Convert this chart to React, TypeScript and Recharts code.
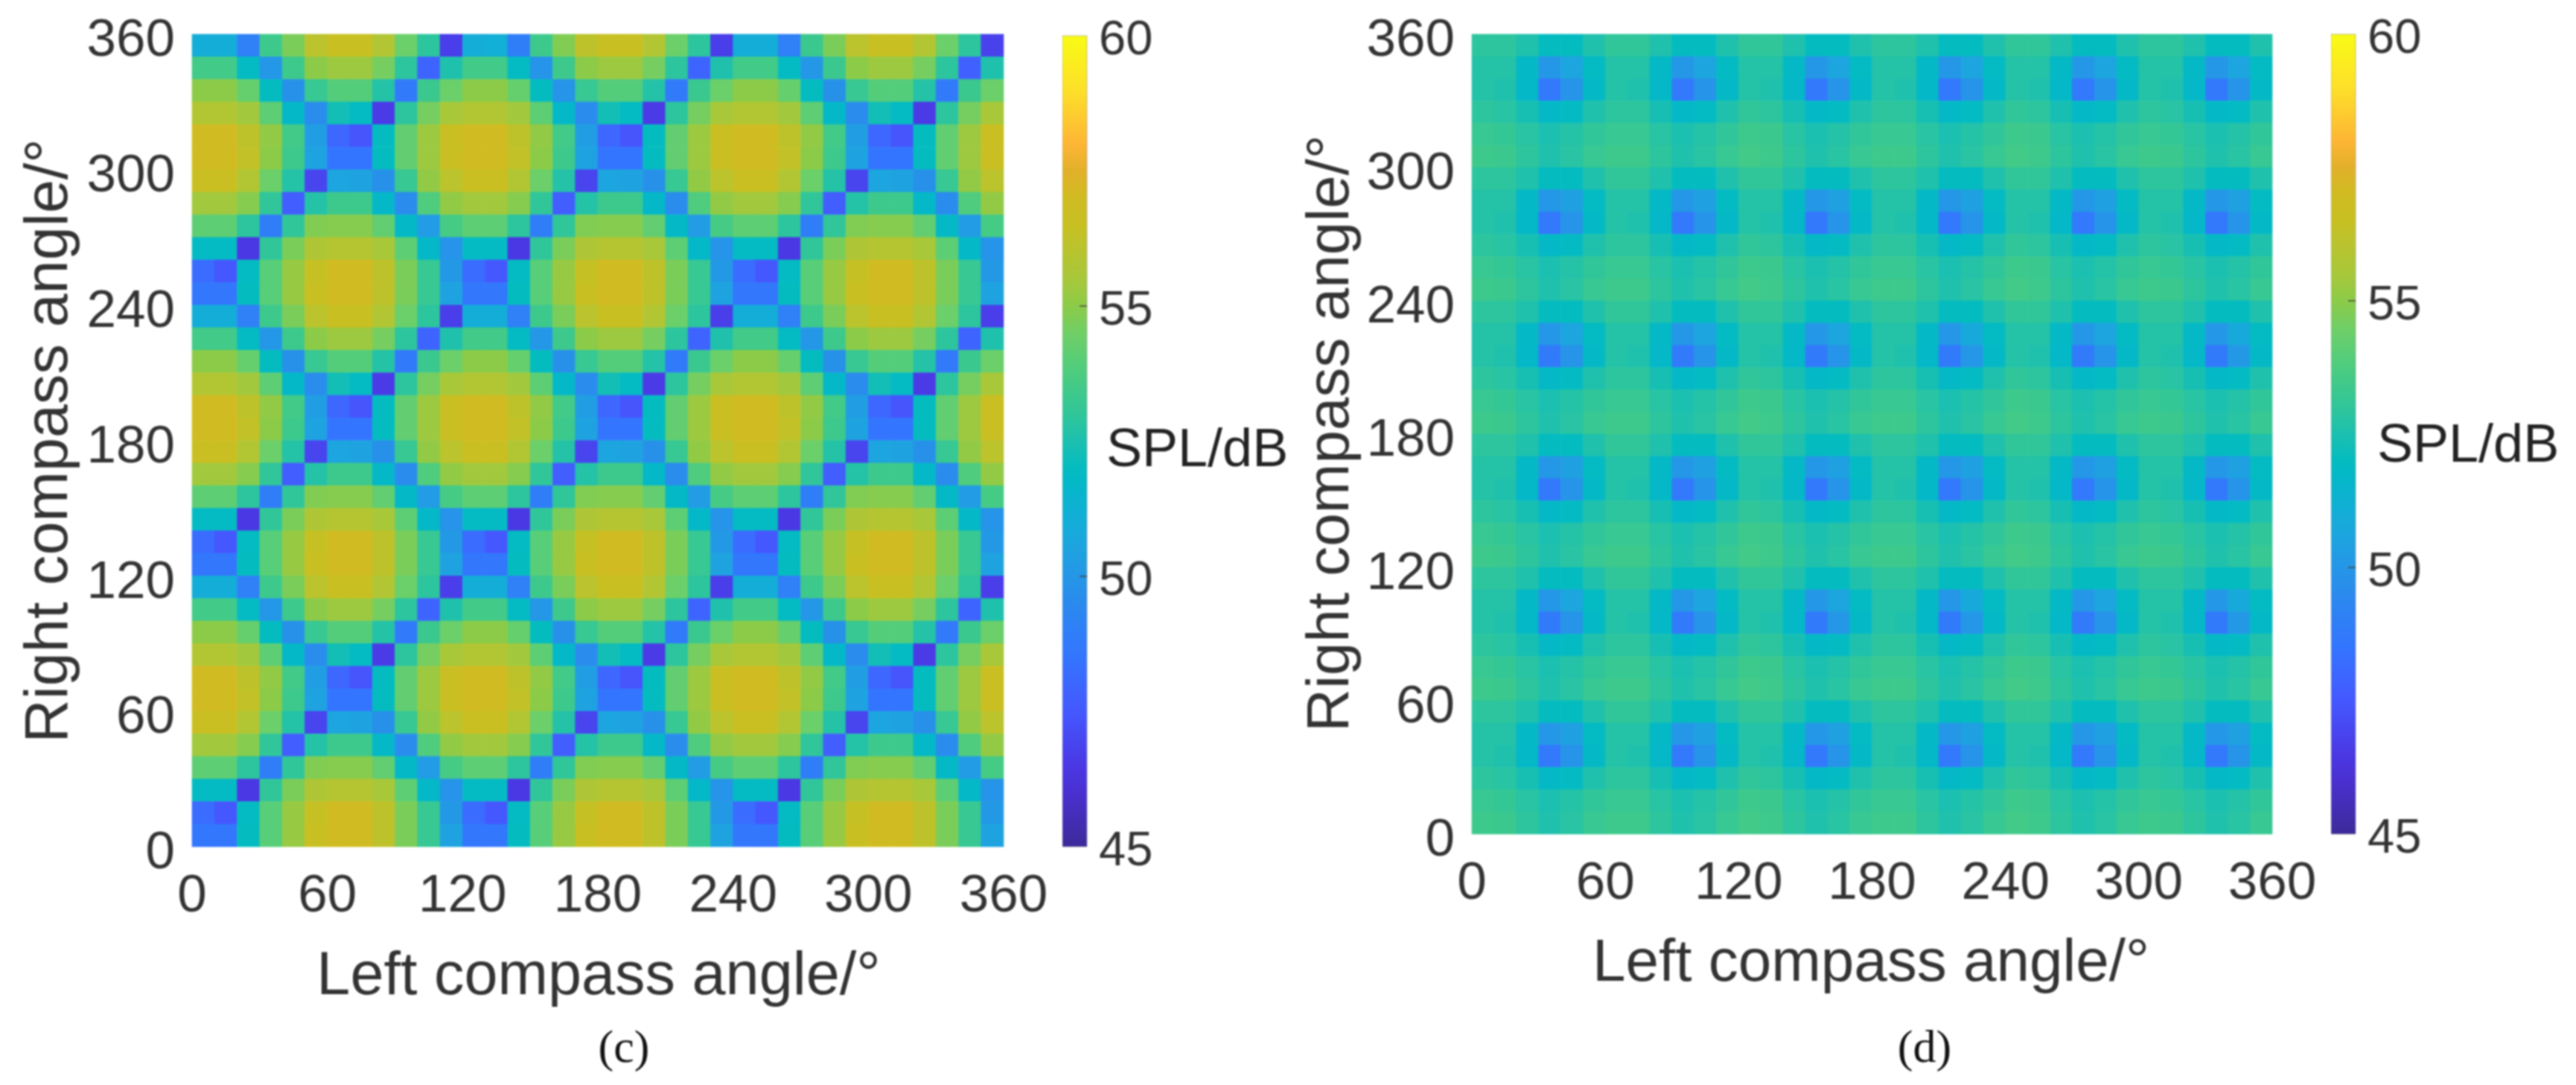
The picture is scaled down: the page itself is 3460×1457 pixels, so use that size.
import { Bar, BarChart, Label, Scatter, ScatterChart, XAxis, YAxis } from "recharts";

const angleTicks = [0, 60, 120, 180, 240, 300, 360];
const splTicks = [45, 50, 55, 60];
const cellDeg = 10;

// SPL in dB, top row (350-360 deg) first, left to right
const splPanelC = [
  [51.0,51.0,49.0,53.4,54.7,56.1,56.5,56.5,55.8,54.4,52.9,46.7,51.0,51.1,48.9,53.4,54.8,56.2,56.5,56.5,55.8,54.4,52.9,46.7,51.0,51.0,49.0,53.3,54.7,56.1,56.5,56.5,55.8,54.4,52.9,46.8],
  [53.5,53.5,51.9,50.0,53.4,55.0,55.3,55.3,54.6,52.9,47.9,52.6,53.5,53.5,51.9,49.9,53.4,55.0,55.3,55.3,54.6,52.9,47.9,52.6,53.5,53.5,51.9,50.0,53.3,55.0,55.3,55.3,54.6,52.9,47.8,52.6],
  [55.0,55.0,54.3,52.0,49.8,53.2,53.9,53.9,52.7,48.8,53.3,54.4,55.0,55.0,54.3,52.0,49.9,53.2,53.9,53.9,52.7,48.8,53.3,54.4,55.0,55.0,54.3,52.0,49.8,53.2,53.9,53.9,52.7,48.8,53.3,54.4],
  [55.8,55.8,55.4,54.1,51.7,49.6,52.3,51.9,46.6,52.9,54.6,55.5,55.8,55.8,55.4,54.1,51.7,49.6,52.3,51.9,46.6,52.9,54.6,55.5,55.8,55.8,55.4,54.1,51.7,49.6,52.3,51.9,46.6,52.9,54.6,55.5],
  [57.0,57.0,56.2,55.1,53.5,50.3,48.0,47.4,52.0,54.2,55.3,56.6,57.0,57.0,56.2,55.1,53.5,50.3,48.0,47.4,52.0,54.2,55.3,56.6,57.0,57.0,56.2,55.1,53.5,50.3,48.0,47.4,52.0,54.2,55.3,56.6],
  [57.0,57.0,56.3,55.0,53.4,50.5,48.5,48.5,52.0,54.2,55.3,56.6,57.0,57.0,56.3,55.0,53.4,50.5,48.5,48.5,52.0,54.2,55.3,56.6,57.0,57.0,56.3,55.0,53.4,50.5,48.5,48.5,52.0,54.2,55.3,56.6],
  [56.6,56.6,55.8,54.4,52.7,46.9,50.6,50.5,49.8,53.2,55.1,56.1,56.6,56.6,55.8,54.4,52.7,46.9,50.6,50.5,49.8,53.2,55.1,56.1,56.6,56.6,55.8,54.4,52.7,46.9,50.6,50.5,49.8,53.2,55.1,56.1],
  [55.4,55.4,54.9,53.0,47.7,52.7,53.4,53.4,51.7,49.6,53.8,55.1,55.4,55.4,54.9,53.0,47.7,52.7,53.4,53.4,51.7,49.6,53.8,55.1,55.4,55.4,54.9,53.0,47.7,52.7,53.4,53.4,51.7,49.6,53.8,55.1],
  [54.1,54.1,52.9,48.9,53.0,54.8,54.9,54.9,54.2,51.8,50.2,53.6,54.1,54.1,52.9,48.9,53.0,54.8,54.9,54.9,54.2,51.8,50.2,53.6,54.1,54.1,52.9,48.9,53.0,54.8,54.9,54.9,54.2,51.8,50.2,53.6],
  [51.9,51.9,46.5,53.0,54.7,55.7,55.9,55.9,55.5,54.1,51.7,49.9,51.9,51.9,46.5,53.0,54.7,55.7,55.9,55.9,55.5,54.1,51.7,49.9,51.9,51.9,46.5,53.0,54.7,55.7,55.9,55.9,55.5,54.1,51.7,49.9],
  [48.2,47.5,51.9,54.0,55.2,56.4,57.0,57.0,56.2,54.7,53.2,50.1,48.2,47.5,51.9,54.0,55.2,56.4,57.0,57.0,56.2,54.7,53.2,50.1,48.2,47.5,51.9,54.0,55.2,56.4,57.0,57.0,56.2,54.7,53.2,50.1],
  [48.6,48.6,52.0,54.0,55.2,56.5,57.0,57.0,56.2,54.7,53.2,50.5,48.6,48.6,52.0,54.0,55.2,56.5,57.0,57.0,56.2,54.7,53.2,50.5,48.6,48.6,52.0,54.0,55.2,56.5,57.0,57.0,56.2,54.7,53.2,50.5],
  [51.0,51.0,49.0,53.4,54.7,56.1,56.5,56.5,55.8,54.4,52.9,46.7,51.0,51.0,49.0,53.4,54.7,56.1,56.5,56.5,55.8,54.4,52.9,46.7,51.0,51.0,49.0,53.4,54.7,56.1,56.5,56.5,55.8,54.4,52.9,46.7],
  [53.5,53.5,51.9,50.0,53.4,55.0,55.3,55.3,54.6,52.9,47.9,52.6,53.5,53.5,51.9,50.0,53.4,55.0,55.3,55.3,54.6,52.9,47.9,52.6,53.5,53.5,51.9,50.0,53.4,55.0,55.3,55.3,54.6,52.9,47.9,52.6],
  [55.0,55.0,54.3,52.0,49.8,53.2,53.9,53.9,52.7,48.8,53.3,54.4,55.0,55.0,54.3,52.0,49.8,53.2,53.9,53.9,52.7,48.8,53.3,54.4,55.0,55.0,54.3,52.0,49.8,53.2,53.9,53.9,52.7,48.8,53.3,54.4],
  [55.8,55.8,55.4,54.1,51.7,49.6,52.3,51.9,46.6,52.9,54.6,55.5,55.8,55.8,55.4,54.1,51.7,49.6,52.3,51.9,46.6,52.9,54.6,55.5,55.8,55.8,55.4,54.1,51.7,49.6,52.3,51.9,46.6,52.9,54.6,55.5],
  [57.0,57.0,56.2,55.1,53.5,50.3,48.0,47.4,52.0,54.2,55.3,56.6,57.0,57.0,56.2,55.1,53.5,50.3,48.0,47.4,52.0,54.2,55.3,56.6,57.0,57.0,56.2,55.1,53.5,50.3,48.0,47.4,52.0,54.2,55.3,56.6],
  [57.0,57.0,56.3,55.0,53.4,50.5,48.5,48.5,52.0,54.2,55.3,56.6,57.0,57.0,56.3,55.0,53.4,50.5,48.5,48.5,52.0,54.2,55.3,56.6,57.0,57.0,56.3,55.0,53.4,50.5,48.5,48.5,52.0,54.2,55.3,56.6],
  [56.6,56.6,55.8,54.4,52.7,46.9,50.6,50.5,49.8,53.2,55.1,56.1,56.6,56.6,55.8,54.4,52.7,46.9,50.6,50.5,49.8,53.2,55.1,56.1,56.6,56.6,55.8,54.4,52.7,46.9,50.6,50.5,49.8,53.2,55.1,56.1],
  [55.4,55.4,54.9,53.0,47.7,52.7,53.4,53.4,51.7,49.6,53.8,55.1,55.4,55.4,54.9,53.0,47.7,52.7,53.4,53.4,51.7,49.6,53.8,55.1,55.4,55.4,54.9,53.0,47.7,52.7,53.4,53.4,51.7,49.6,53.8,55.1],
  [54.1,54.1,52.9,48.9,53.0,54.8,54.9,54.9,54.2,51.8,50.2,53.6,54.1,54.1,52.9,48.9,53.0,54.8,54.9,54.9,54.2,51.8,50.2,53.6,54.1,54.1,52.9,48.9,53.0,54.8,54.9,54.9,54.2,51.8,50.2,53.6],
  [51.9,51.9,46.5,53.0,54.7,55.7,55.9,55.9,55.5,54.1,51.7,49.9,51.9,51.9,46.5,53.0,54.7,55.7,55.9,55.9,55.5,54.1,51.7,49.9,51.9,51.9,46.5,53.0,54.7,55.7,55.9,55.9,55.5,54.1,51.7,49.9],
  [48.2,47.5,51.9,54.0,55.2,56.4,57.0,57.0,56.2,54.7,53.2,50.1,48.2,47.5,51.9,54.0,55.2,56.4,57.0,57.0,56.2,54.7,53.2,50.1,48.2,47.5,51.9,54.0,55.2,56.4,57.0,57.0,56.2,54.7,53.2,50.1],
  [48.6,48.6,52.0,54.0,55.2,56.5,57.0,57.0,56.2,54.7,53.2,50.5,48.6,48.6,52.0,54.0,55.2,56.5,57.0,57.0,56.2,54.7,53.2,50.5,48.6,48.6,52.0,54.0,55.2,56.5,57.0,57.0,56.2,54.7,53.2,50.5],
  [51.0,51.0,49.0,53.4,54.7,56.1,56.5,56.5,55.8,54.4,52.9,46.7,51.0,51.0,49.0,53.4,54.7,56.1,56.5,56.5,55.8,54.4,52.9,46.7,51.0,51.0,49.0,53.4,54.7,56.1,56.5,56.5,55.8,54.4,52.9,46.7],
  [53.5,53.5,51.9,50.0,53.4,55.0,55.3,55.3,54.6,52.9,47.9,52.6,53.5,53.5,51.9,50.0,53.4,55.0,55.3,55.3,54.6,52.9,47.9,52.6,53.5,53.5,51.9,50.0,53.4,55.0,55.3,55.3,54.6,52.9,47.9,52.6],
  [55.0,55.0,54.3,52.0,49.8,53.2,53.9,53.9,52.7,48.8,53.3,54.4,55.0,55.0,54.3,52.0,49.8,53.2,53.9,53.9,52.7,48.8,53.3,54.4,55.0,55.0,54.3,52.0,49.8,53.2,53.9,53.9,52.7,48.8,53.3,54.4],
  [55.8,55.8,55.4,54.1,51.7,49.6,52.3,51.9,46.6,52.9,54.6,55.5,55.8,55.8,55.4,54.1,51.7,49.6,52.3,51.9,46.6,52.9,54.6,55.5,55.8,55.8,55.4,54.1,51.7,49.6,52.3,51.9,46.6,52.9,54.6,55.5],
  [57.0,57.0,56.2,55.1,53.5,50.3,48.0,47.4,52.0,54.2,55.3,56.6,57.0,57.0,56.2,55.1,53.5,50.3,48.0,47.4,52.0,54.2,55.3,56.6,57.0,57.0,56.2,55.1,53.5,50.3,48.0,47.4,52.0,54.2,55.3,56.6],
  [57.0,57.0,56.3,55.0,53.4,50.5,48.5,48.5,52.0,54.2,55.3,56.6,57.0,57.0,56.3,55.0,53.4,50.5,48.5,48.5,52.0,54.2,55.3,56.6,57.0,57.0,56.3,55.0,53.4,50.5,48.5,48.5,52.0,54.2,55.3,56.6],
  [56.6,56.6,55.8,54.4,52.7,46.9,50.6,50.5,49.8,53.2,55.1,56.1,56.6,56.6,55.8,54.4,52.7,46.9,50.6,50.5,49.8,53.2,55.1,56.1,56.6,56.6,55.8,54.4,52.7,46.9,50.6,50.5,49.8,53.2,55.1,56.1],
  [55.4,55.4,54.9,53.0,47.7,52.7,53.4,53.4,51.7,49.6,53.8,55.1,55.4,55.4,54.9,53.0,47.7,52.7,53.4,53.4,51.7,49.6,53.8,55.1,55.4,55.4,54.9,53.0,47.7,52.7,53.4,53.4,51.7,49.6,53.8,55.1],
  [54.1,54.1,52.9,48.9,53.0,54.8,54.9,54.9,54.2,51.8,50.2,53.6,54.1,54.1,52.9,48.9,53.0,54.8,54.9,54.9,54.2,51.8,50.2,53.6,54.1,54.1,52.9,48.9,53.0,54.8,54.9,54.9,54.2,51.8,50.2,53.6],
  [51.9,51.9,46.5,53.0,54.7,55.7,55.9,55.9,55.5,54.1,51.7,49.9,51.9,51.9,46.5,53.0,54.7,55.7,55.9,55.9,55.5,54.1,51.7,49.9,51.9,51.9,46.5,53.0,54.7,55.7,55.9,55.9,55.5,54.1,51.7,49.9],
  [48.2,47.5,51.9,54.0,55.2,56.4,57.0,57.0,56.2,54.7,53.2,50.1,48.2,47.5,51.9,54.0,55.2,56.4,57.0,57.0,56.2,54.7,53.2,50.1,48.2,47.5,51.9,54.0,55.2,56.4,57.0,57.0,56.2,54.7,53.2,50.1],
  [48.6,48.6,52.0,54.0,55.2,56.5,57.0,57.0,56.2,54.7,53.2,50.5,48.6,48.6,52.0,54.0,55.2,56.5,57.0,57.0,56.2,54.7,53.2,50.5,48.6,48.6,52.0,54.0,55.2,56.5,57.0,57.0,56.2,54.7,53.2,50.5],
];

// SPL in dB, same order
const splPanelD = [
  [52.9,52.9,52.6,52.0,52.0,52.6,53.0,53.0,52.6,52.0,52.0,52.6,53.0,53.0,52.6,52.0,52.0,52.6,52.9,52.9,52.6,52.0,52.0,52.6,53.0,53.0,52.6,52.0,52.0,52.6,52.9,52.9,52.6,52.0,52.0,52.6],
  [52.7,52.7,51.8,50.0,50.6,51.9,52.7,52.7,51.8,50.0,50.6,51.9,52.7,52.7,51.8,50.0,50.6,51.9,52.7,52.7,51.8,50.0,50.6,51.9,52.7,52.7,51.8,50.0,50.6,51.9,52.7,52.7,51.8,50.0,50.6,51.9],
  [52.7,52.6,51.7,48.7,49.9,51.8,52.7,52.6,51.7,48.7,49.9,51.8,52.7,52.6,51.7,48.7,49.9,51.8,52.7,52.6,51.7,48.7,49.9,51.8,52.7,52.6,51.7,48.7,49.9,51.8,52.7,52.6,51.7,48.7,49.9,51.8],
  [52.9,52.8,52.4,51.8,51.9,52.6,52.9,52.9,52.4,51.8,51.9,52.6,53.0,52.9,52.4,51.8,51.9,52.6,52.9,52.9,52.4,51.8,51.9,52.6,53.0,52.9,52.4,51.8,51.9,52.6,52.9,52.8,52.4,51.8,51.9,52.6],
  [53.2,53.1,52.8,52.5,52.7,53.0,53.2,53.2,52.8,52.5,52.7,53.0,53.4,53.3,52.8,52.5,52.7,53.0,53.2,53.2,52.8,52.5,52.7,53.0,53.4,53.3,52.8,52.5,52.7,53.0,53.2,53.1,52.8,52.5,52.7,53.0],
  [53.4,53.3,52.9,52.6,52.8,53.2,53.4,53.4,52.9,52.6,52.8,53.2,53.5,53.4,52.9,52.6,52.8,53.2,53.4,53.4,52.9,52.6,52.8,53.2,53.5,53.4,52.9,52.6,52.8,53.2,53.4,53.3,52.9,52.6,52.8,53.2],
  [52.9,52.9,52.6,52.0,52.0,52.6,53.0,53.0,52.6,52.0,52.0,52.6,53.0,53.0,52.6,52.0,52.0,52.6,52.9,52.9,52.6,52.0,52.0,52.6,53.0,53.0,52.6,52.0,52.0,52.6,52.9,52.9,52.6,52.0,52.0,52.6],
  [52.7,52.7,51.8,50.0,50.4,51.9,52.7,52.7,51.8,50.0,50.4,51.9,52.7,52.7,51.8,50.0,50.4,51.9,52.7,52.7,51.8,50.0,50.4,51.9,52.7,52.7,51.8,50.0,50.4,51.9,52.7,52.7,51.8,50.0,50.4,51.9],
  [52.7,52.6,51.7,48.7,49.9,51.8,52.7,52.6,51.7,48.7,49.9,51.8,52.7,52.6,51.7,48.7,49.9,51.8,52.7,52.6,51.7,48.7,49.9,51.8,52.7,52.6,51.7,48.7,49.9,51.8,52.7,52.6,51.7,48.7,49.9,51.8],
  [52.9,52.8,52.4,51.8,51.9,52.6,52.9,52.9,52.4,51.8,51.9,52.6,53.0,52.9,52.4,51.8,51.9,52.6,52.9,52.9,52.4,51.8,51.9,52.6,53.0,52.9,52.4,51.8,51.9,52.6,52.9,52.8,52.4,51.8,51.9,52.6],
  [53.2,53.1,52.8,52.5,52.7,53.0,53.2,53.2,52.8,52.5,52.7,53.0,53.4,53.3,52.8,52.5,52.7,53.0,53.2,53.2,52.8,52.5,52.7,53.0,53.4,53.3,52.8,52.5,52.7,53.0,53.2,53.1,52.8,52.5,52.7,53.0],
  [53.4,53.3,52.9,52.6,52.8,53.2,53.4,53.4,52.9,52.6,52.8,53.2,53.5,53.4,52.9,52.6,52.8,53.2,53.4,53.4,52.9,52.6,52.8,53.2,53.5,53.4,52.9,52.6,52.8,53.2,53.4,53.3,52.9,52.6,52.8,53.2],
  [52.9,52.9,52.6,52.0,52.0,52.6,53.0,53.0,52.6,52.0,52.0,52.6,53.0,53.0,52.6,52.0,52.0,52.6,52.9,52.9,52.6,52.0,52.0,52.6,53.0,53.0,52.6,52.0,52.0,52.6,52.9,52.9,52.6,52.0,52.0,52.6],
  [52.7,52.7,51.8,50.0,50.6,51.9,52.7,52.7,51.8,50.0,50.6,51.9,52.7,52.7,51.8,50.0,50.6,51.9,52.7,52.7,51.8,50.0,50.8,51.9,52.7,52.7,51.8,50.0,50.6,51.9,52.7,52.7,51.8,50.0,50.8,51.9],
  [52.7,52.6,51.7,48.8,49.9,51.8,52.7,52.6,51.7,48.8,49.9,51.8,52.7,52.6,51.7,48.8,49.9,51.8,52.7,52.6,51.7,48.8,50.0,51.8,52.7,52.6,51.7,48.8,49.9,51.8,52.7,52.6,51.7,48.8,50.1,51.8],
  [52.9,52.8,52.4,51.8,51.9,52.6,52.9,52.9,52.4,51.8,51.9,52.6,53.0,52.9,52.4,51.8,51.9,52.6,52.9,52.9,52.4,51.8,51.9,52.6,53.0,52.9,52.4,51.8,51.9,52.6,52.9,52.8,52.4,51.8,51.9,52.6],
  [53.2,53.1,52.8,52.5,52.7,53.0,53.2,53.2,52.8,52.5,52.7,53.0,53.4,53.3,52.8,52.5,52.7,53.0,53.2,53.2,52.8,52.5,52.7,53.0,53.4,53.3,52.8,52.5,52.7,53.0,53.2,53.1,52.8,52.5,52.7,53.0],
  [53.4,53.3,52.9,52.6,52.8,53.2,53.4,53.4,52.9,52.6,52.8,53.2,53.5,53.4,52.9,52.6,52.8,53.2,53.4,53.4,52.9,52.6,52.8,53.2,53.5,53.4,52.9,52.6,52.8,53.2,53.4,53.3,52.9,52.6,52.8,53.2],
  [52.9,52.9,52.6,52.0,52.0,52.6,53.0,53.0,52.6,52.0,52.0,52.6,53.0,53.0,52.6,52.0,52.0,52.6,52.9,52.9,52.6,52.0,52.0,52.6,53.0,53.0,52.6,52.0,52.0,52.6,52.9,52.9,52.6,52.0,52.0,52.6],
  [52.7,52.7,51.8,50.0,50.4,51.9,52.7,52.7,51.8,50.0,50.4,51.9,52.7,52.7,51.8,50.0,50.4,51.9,52.7,52.7,51.8,50.0,50.4,51.9,52.7,52.7,51.8,50.0,50.4,51.9,52.7,52.7,51.8,50.0,50.4,51.9],
  [52.7,52.6,51.7,48.7,49.9,51.8,52.7,52.6,51.7,48.7,49.9,51.8,52.7,52.6,51.7,48.7,49.9,51.8,52.7,52.6,51.7,48.7,49.9,51.8,52.7,52.6,51.7,48.7,49.9,51.8,52.7,52.6,51.7,48.7,49.9,51.8],
  [52.9,52.8,52.4,51.8,51.9,52.6,52.9,52.9,52.4,51.8,51.9,52.6,53.0,52.9,52.4,51.8,51.9,52.6,52.9,52.9,52.4,51.8,51.9,52.6,53.0,52.9,52.4,51.8,51.9,52.6,52.9,52.8,52.4,51.8,51.9,52.6],
  [53.2,53.1,52.8,52.5,52.7,53.0,53.2,53.2,52.8,52.5,52.7,53.0,53.4,53.3,52.8,52.5,52.7,53.0,53.2,53.2,52.8,52.5,52.7,53.0,53.4,53.3,52.8,52.5,52.7,53.0,53.2,53.1,52.8,52.5,52.7,53.0],
  [53.4,53.3,52.9,52.6,52.8,53.2,53.4,53.4,52.9,52.6,52.8,53.2,53.5,53.4,52.9,52.6,52.8,53.2,53.4,53.4,52.9,52.6,52.8,53.2,53.5,53.4,52.9,52.6,52.8,53.2,53.4,53.3,52.9,52.6,52.8,53.2],
  [52.9,52.9,52.6,52.0,52.0,52.6,53.0,53.0,52.6,52.0,52.0,52.6,53.0,53.0,52.6,52.0,52.0,52.6,52.9,52.9,52.6,52.0,52.0,52.6,53.0,53.0,52.6,52.0,52.0,52.6,52.9,52.9,52.6,52.0,52.0,52.6],
  [52.7,52.7,51.8,50.0,50.6,51.9,52.7,52.7,51.8,50.0,50.6,51.9,52.7,52.7,51.8,50.0,50.6,51.9,52.7,52.7,51.8,50.0,50.8,51.9,52.7,52.7,51.8,50.0,50.6,51.9,52.7,52.7,51.8,50.0,50.8,51.9],
  [52.7,52.6,51.7,48.8,49.9,51.8,52.7,52.6,51.7,48.8,49.9,51.8,52.7,52.6,51.7,48.8,50.0,51.8,52.7,52.6,51.7,48.8,50.0,51.8,52.7,52.6,51.7,48.8,49.9,51.8,52.7,52.6,51.7,48.8,50.1,51.8],
  [52.9,52.8,52.4,51.8,51.9,52.6,52.9,52.9,52.4,51.8,51.9,52.6,53.0,52.9,52.4,51.8,51.9,52.6,52.9,52.9,52.4,51.8,51.9,52.6,53.0,52.9,52.4,51.8,51.9,52.6,52.9,52.8,52.4,51.8,51.9,52.6],
  [53.2,53.1,52.8,52.5,52.7,53.0,53.2,53.2,52.8,52.5,52.7,53.0,53.4,53.3,52.8,52.5,52.7,53.0,53.2,53.2,52.8,52.5,52.7,53.0,53.4,53.3,52.8,52.5,52.7,53.0,53.2,53.1,52.8,52.5,52.7,53.0],
  [53.4,53.3,52.9,52.6,52.8,53.2,53.4,53.4,52.9,52.6,52.8,53.2,53.5,53.4,52.9,52.6,52.8,53.2,53.4,53.4,52.9,52.6,52.8,53.2,53.5,53.4,52.9,52.6,52.8,53.2,53.4,53.3,52.9,52.6,52.8,53.2],
  [52.9,52.9,52.6,52.0,52.0,52.6,53.0,53.0,52.6,52.0,52.0,52.6,53.0,53.0,52.6,52.0,52.0,52.6,52.9,52.9,52.6,52.0,52.0,52.6,53.0,53.0,52.6,52.0,52.0,52.6,52.9,52.9,52.6,52.0,52.0,52.6],
  [52.7,52.7,51.8,50.0,50.4,51.9,52.7,52.7,51.8,50.0,50.4,51.9,52.7,52.7,51.8,50.0,50.4,51.9,52.7,52.7,51.8,50.0,50.4,51.9,52.7,52.7,51.8,50.0,50.4,51.9,52.7,52.7,51.8,50.0,50.4,51.9],
  [52.7,52.6,51.7,48.7,49.9,51.8,52.7,52.6,51.7,48.7,49.9,51.8,52.7,52.6,51.7,48.7,49.9,51.8,52.7,52.6,51.7,48.7,49.9,51.8,52.7,52.6,51.7,48.7,49.9,51.8,52.7,52.6,51.7,48.7,49.9,51.8],
  [52.9,52.8,52.4,51.8,51.9,52.6,52.9,52.9,52.4,51.8,51.9,52.6,53.0,52.9,52.4,51.8,51.9,52.6,52.9,52.9,52.4,51.8,51.9,52.6,53.0,52.9,52.4,51.8,51.9,52.6,52.9,52.8,52.4,51.8,51.9,52.6],
  [53.2,53.1,52.8,52.5,52.7,53.0,53.2,53.2,52.8,52.5,52.7,53.0,53.4,53.3,52.8,52.5,52.7,53.0,53.2,53.2,52.8,52.5,52.7,53.0,53.4,53.3,52.8,52.5,52.7,53.0,53.2,53.1,52.8,52.5,52.7,53.0],
  [53.4,53.3,52.9,52.6,52.8,53.2,53.4,53.4,52.9,52.6,52.8,53.2,53.5,53.4,52.9,52.6,52.8,53.2,53.4,53.4,52.9,52.6,52.8,53.2,53.5,53.4,52.9,52.6,52.8,53.2,53.4,53.3,52.9,52.6,52.8,53.2],
];

// colour scale as it appears in the picture's colour bar
const colorStops: [number, string][] = [
  [45, "#3d2a9a"], [46, "#4a30d0"], [46.5, "#4a38e4"], [47.5, "#4558ff"], [48.5, "#3475ff"],
  [49.5, "#2b8aee"], [50.5, "#1ea3e0"], [51, "#14add8"], [51.7, "#04b8c8"], [52, "#04bcc0"],
  [52.5, "#1cc0b0"], [53, "#30c69a"], [53.5, "#42ca88"], [54, "#58ce78"], [54.5, "#70cf66"],
  [55, "#8ccb48"], [55.5, "#a8c83a"], [56, "#b8c430"], [56.5, "#c8c022"], [57, "#d0bc22"],
  [57.5, "#e2b02a"], [58, "#fdb635"], [59, "#fde02a"], [60, "#f9fb15"],
];

const sansFont = "'Liberation Sans', Arial, sans-serif";
const textColor = "#333333";

function toRgb(hex: string) {
  return [1, 3, 5].map((i) => parseInt(hex.slice(i, i + 2), 16));
}

function splColor(v: number) {
  for (let i = 1; i < colorStops.length; i++) {
    const [v1, c1] = colorStops[i];
    if (v <= v1) {
      const [v0, c0] = colorStops[i - 1];
      const t = (v - v0) / (v1 - v0);
      const a = toRgb(c0);
      const b = toRgb(c1);
      return `rgb(${a.map((x, k) => Math.round(x + (b[k] - x) * t)).join(",")})`;
    }
  }
  return colorStops[colorStops.length - 1][1];
}

function toCells(rows: number[][]) {
  return rows.flatMap((row, r) =>
    row.map((spl, c) => ({
      left: c * cellDeg + cellDeg / 2,
      right: 360 - r * cellDeg - cellDeg / 2,
      spl,
    })),
  );
}

interface HeatPanelProps {
  rows: number[][];
  chartLeft: number;
  chartWidth: number;
  plotLeft: number;
  plotRight: number;
  plotTop: number;
  plotBottom: number;
  labelSize: number;
  xLabel: { x: number; y: number };
  yLabel: { x: number; y: number };
}

function HeatPanel({ rows, chartLeft, chartWidth, plotLeft, plotRight, plotTop, plotBottom, labelSize, xLabel, yLabel }: HeatPanelProps) {
  const chartHeight = 1457;
  const cellW = (plotRight - plotLeft) / 36 + 0.6;
  const cellH = (plotBottom - plotTop) / 36 + 0.6;
  return (
    <div style={{ position: "absolute", left: chartLeft, top: 0 }}>
      <ScatterChart
        width={chartWidth}
        height={chartHeight}
        margin={{ top: plotTop, left: 0, right: chartLeft + chartWidth - plotRight, bottom: 0 }}
      >
        <XAxis
          type="number"
          dataKey="left"
          domain={[0, 360]}
          ticks={angleTicks}
          interval={0}
          height={chartHeight - plotBottom}
          axisLine={false}
          tickLine={false}
          tickSize={0}
          tickMargin={37}
          tick={{ fontSize: 71, fill: textColor, fontFamily: sansFont }}
        >
          <Label
            content={() => (
              <text x={xLabel.x - chartLeft} y={xLabel.y} textAnchor="middle" fontSize={labelSize} fontFamily={sansFont} fill={textColor}>
                Left compass angle/°
              </text>
            )}
          />
        </XAxis>
        <YAxis
          type="number"
          dataKey="right"
          domain={[0, 360]}
          ticks={angleTicks}
          interval={0}
          width={plotLeft - chartLeft}
          axisLine={false}
          tickLine={false}
          tickSize={0}
          tickMargin={23}
          tick={{ fontSize: 71, fill: textColor, fontFamily: sansFont, dy: 4 }}
        >
          <Label
            content={() => (
              <text
                x={0}
                y={0}
                transform={`translate(${yLabel.x - chartLeft},${yLabel.y}) rotate(-90)`}
                textAnchor="middle"
                fontSize={labelSize}
                fontFamily={sansFont}
                fill={textColor}
              >
                Right compass angle/°
              </text>
            )}
          />
        </YAxis>
        <Scatter
          data={toCells(rows)}
          isAnimationActive={false}
          shape={(p: any) => (
            <rect x={p.cx - cellW / 2} y={p.cy - cellH / 2} width={cellW} height={cellH} fill={splColor(p.payload.spl)} />
          )}
        />
      </ScatterChart>
    </div>
  );
}

function ColorbarTick({ x, y, payload }: any) {
  return (
    <g>
      {payload.value === 50 || payload.value === 55 ? (
        <line x1={x - 10} x2={x} y1={y} y2={y} stroke="#444" strokeWidth={1.5} />
      ) : null}
      <text x={x + 16} y={y + 25} fontSize={65} fontFamily={sansFont} fill={textColor}>
        {payload.value}
      </text>
    </g>
  );
}

interface ColorbarProps {
  id: string;
  left: number;
  top: number;
  bottom: number;
  labelX: number;
  labelY: number;
}

function Colorbar({ id, left, top, bottom, labelX, labelY }: ColorbarProps) {
  const barWidth = 33;
  const chartWidth = 340;
  return (
    <div style={{ position: "absolute", left, top: 0 }}>
      <BarChart
        width={chartWidth}
        height={1457}
        data={[{ name: "SPL", span: [45, 60] }]}
        margin={{ top, left: 0, right: 0, bottom: 1457 - bottom }}
        barCategoryGap={0}
      >
        <defs>
          <linearGradient id={id} x1="0" y1="0" x2="0" y2="1">
            {[...colorStops].reverse().map(([v, c]) => (
              <stop key={v} offset={(60 - v) / 15} stopColor={c} />
            ))}
          </linearGradient>
        </defs>
        <XAxis dataKey="name" hide />
        <YAxis
          orientation="right"
          type="number"
          domain={[45, 60]}
          ticks={splTicks}
          interval={0}
          width={chartWidth - barWidth}
          axisLine={false}
          tickLine={false}
          tickSize={0}
          tickMargin={0}
          tick={<ColorbarTick />}
        >
          <Label
            content={() => (
              <text x={labelX - left} y={labelY} fontSize={72} fontFamily={sansFont} fill="#222">
                SPL/dB
              </text>
            )}
          />
        </YAxis>
        <Bar dataKey="span" fill={`url(#${id})`} stroke="#8a8a8a" strokeOpacity={0.5} isAnimationActive={false} />
      </BarChart>
    </div>
  );
}

function Caption({ text, x }: { text: string; x: number }) {
  return (
    <div
      style={{
        position: "absolute",
        left: x - 60,
        top: 1372,
        width: 120,
        textAlign: "center",
        fontFamily: "'Liberation Serif', serif",
        fontSize: 62,
        lineHeight: "66px",
        color: "#111",
      }}
    >
      {text}
    </div>
  );
}

export default function App() {
  return (
    <div
      style={{
        position: "absolute",
        left: 0,
        top: 0,
        width: 3460,
        height: 1457,
        overflow: "hidden",
        background: "#fff",
        filter: "blur(1.2px)",
      }}
    >
      <HeatPanel
        rows={splPanelC}
        chartLeft={0}
        chartWidth={1420}
        plotLeft={258}
        plotRight={1348}
        plotTop={46}
        plotBottom={1137}
        labelSize={81}
        xLabel={{ x: 804, y: 1335 }}
        yLabel={{ x: 90, y: 592 }}
      />
      <Colorbar id="splBarC" left={1427} top={48} bottom={1137} labelX={1486} labelY={626} />
      <Caption text="(c)" x={838} />
      <HeatPanel
        rows={splPanelD}
        chartLeft={1700}
        chartWidth={1420}
        plotLeft={1977}
        plotRight={3052}
        plotTop={46}
        plotBottom={1120}
        labelSize={80}
        xLabel={{ x: 2513, y: 1317 }}
        yLabel={{ x: 1811, y: 582 }}
      />
      <Colorbar id="splBarD" left={3131} top={46} bottom={1120} labelX={3193} labelY={620} />
      <Caption text="(d)" x={2585} />
    </div>
  );
}
